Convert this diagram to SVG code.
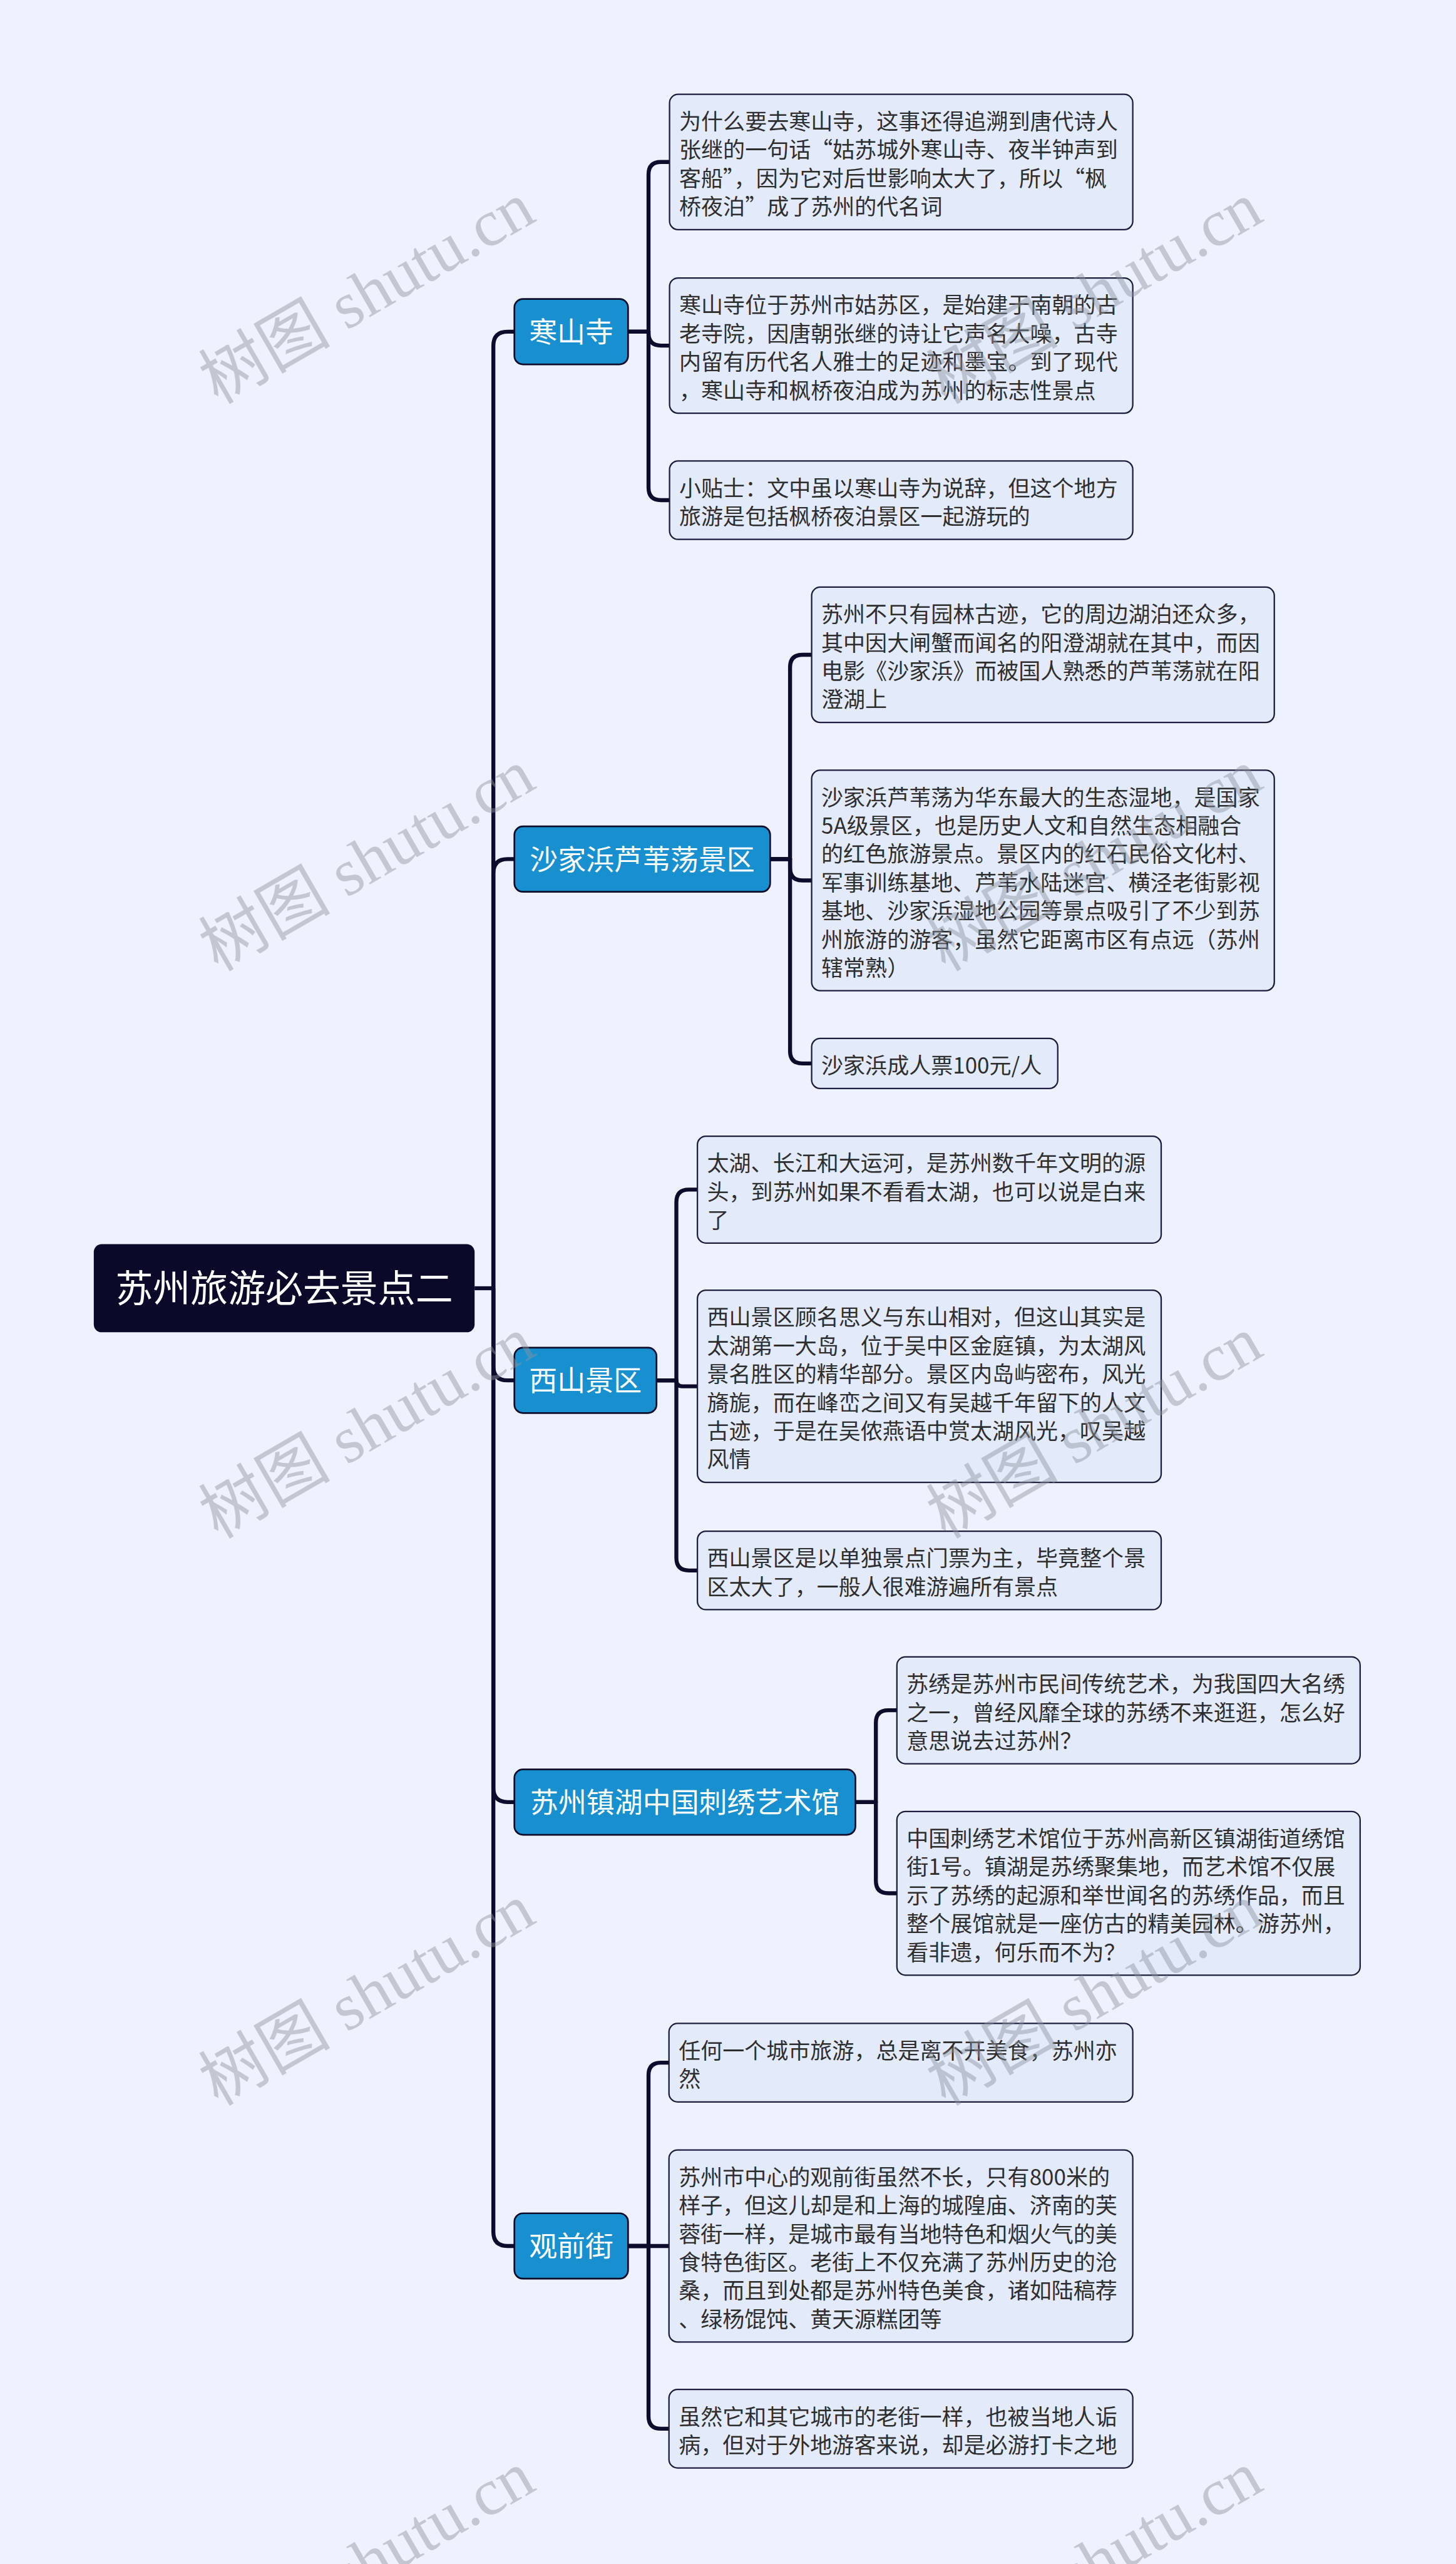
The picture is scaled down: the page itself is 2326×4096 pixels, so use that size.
<svg xmlns="http://www.w3.org/2000/svg" width="2326" height="4096" viewBox="0 0 2326 4096">
<style>
.bg{fill:#edf2fe}
.ln{fill:none;stroke:#0e0c2c;stroke-width:7;stroke-linejoin:round}
text{font-family:"Noto Sans CJK SC","Noto Sans",sans-serif}
.root rect{fill:#0b0929}
.root text{fill:#ffffff;font-size:66px;text-anchor:middle}
.n1 rect{fill:#1890d0;stroke:#0e0c2c;stroke-width:3}
.n1 text{fill:#ffffff;font-size:49.5px;text-anchor:middle}
.leaf rect{fill:#e3eafa;stroke:#1d1c3c;stroke-width:2.5}
.leaf text{fill:#2e2e2e;font-size:38.6px}
.wm{fill:#8f949e;opacity:0.45;font-size:116px;text-anchor:middle;font-family:"Liberation Serif","Noto Sans CJK SC",serif}
</style>
<rect class="bg" x="0" y="0" width="2326" height="4096"/>
<g transform="scale(0.908)">
<g id="connectors">
<path class="ln" d="M835 2266.5 H868"/>
<path class="ln" d="M868 2266.5 V608.5 Q868 583.5 893 583.5 H905"/>
<path class="ln" d="M868 2266.5 V1536.5 Q868 1511.5 893 1511.5 H905"/>
<path class="ln" d="M868 2266.5 V2403.5 Q868 2428.5 893 2428.5 H905"/>
<path class="ln" d="M868 2266.5 V3145.5 Q868 3170.5 893 3170.5 H905"/>
<path class="ln" d="M868 2266.5 V3926.5 Q868 3951.5 893 3951.5 H905"/>
<path class="ln" d="M1105 583.5 H1141 V307 Q1141 285 1163 285 H1178"/>
<path class="ln" d="M1105 583.5 H1141 V586 Q1141 608 1163 608 H1178"/>
<path class="ln" d="M1105 583.5 H1141 V858 Q1141 880 1163 880 H1178"/>
<path class="ln" d="M1355 1511.5 H1390 V1174 Q1390 1152 1412 1152 H1428"/>
<path class="ln" d="M1355 1511.5 H1390 V1527 Q1390 1549 1412 1549 H1428"/>
<path class="ln" d="M1355 1511.5 H1390 V1849 Q1390 1871 1412 1871 H1428"/>
<path class="ln" d="M1155 2428.5 H1190 V2115 Q1190 2093 1212 2093 H1227"/>
<path class="ln" d="M1155 2428.5 H1190 Q1190 2439 1200.5 2439 H1227"/>
<path class="ln" d="M1155 2428.5 H1190 V2741 Q1190 2763 1212 2763 H1227"/>
<path class="ln" d="M1505 3170.5 H1541 V3031 Q1541 3009 1563 3009 H1578"/>
<path class="ln" d="M1505 3170.5 H1541 V3309 Q1541 3331 1563 3331 H1578"/>
<path class="ln" d="M1104 3951.5 H1141 V3651 Q1141 3629 1163 3629 H1177"/>
<path class="ln" d="M1104 3951.5 H1177"/>
<path class="ln" d="M1104 3951.5 H1141 V4251 Q1141 4273 1163 4273 H1177"/>
</g>
<g id="root" class="root">
<rect x="165" y="2189" width="670" height="155" rx="14"/>
<text x="500" y="2291">苏州旅游必去景点二</text>
</g>
<g id="n-hanshansi" class="n1">
<rect x="905" y="526" width="200" height="115" rx="15"/>
<text x="1005" y="602.3">寒山寺</text>
</g>
<g id="n-shajiabang" class="n1">
<rect x="905" y="1454" width="450" height="115" rx="15"/>
<text x="1130" y="1530.3">沙家浜芦苇荡景区</text>
</g>
<g id="n-xishan" class="n1">
<rect x="905" y="2371" width="250" height="115" rx="15"/>
<text x="1030" y="2447.3">西山景区</text>
</g>
<g id="n-zhenhu" class="n1">
<rect x="905" y="3113" width="600" height="115" rx="15"/>
<text x="1205" y="3189.3">苏州镇湖中国刺绣艺术馆</text>
</g>
<g id="n-guanqianjie" class="n1">
<rect x="905" y="3894" width="200" height="115" rx="15"/>
<text x="1005" y="3970.3">观前街</text>
</g>
<g id="a1" class="leaf">
<rect x="1178" y="166" width="815" height="238" rx="15"/>
<text x="1195" y="228"><tspan x="1195">为什么要去寒山寺，这事还得追溯到唐代诗人</tspan><tspan x="1195" dy="50">张继的一句话“姑苏城外寒山寺、夜半钟声到</tspan><tspan x="1195" dy="50">客船”，因为它对后世影响太大了，所以“枫</tspan><tspan x="1195" dy="50">桥夜泊”成了苏州的代名词</tspan></text>
</g>
<g id="a2" class="leaf">
<rect x="1178" y="489" width="815" height="238" rx="15"/>
<text x="1195" y="551"><tspan x="1195">寒山寺位于苏州市姑苏区，是始建于南朝的古</tspan><tspan x="1195" dy="50">老寺院，因唐朝张继的诗让它声名大噪，古寺</tspan><tspan x="1195" dy="50">内留有历代名人雅士的足迹和墨宝。到了现代</tspan><tspan x="1195" dy="50">，寒山寺和枫桥夜泊成为苏州的标志性景点</tspan></text>
</g>
<g id="a3" class="leaf">
<rect x="1178" y="811" width="815" height="138" rx="15"/>
<text x="1195" y="873"><tspan x="1195">小贴士：文中虽以寒山寺为说辞，但这个地方</tspan><tspan x="1195" dy="50">旅游是包括枫桥夜泊景区一起游玩的</tspan></text>
</g>
<g id="b1" class="leaf">
<rect x="1428" y="1033" width="814" height="238" rx="15"/>
<text x="1445" y="1095"><tspan x="1445">苏州不只有园林古迹，它的周边湖泊还众多，</tspan><tspan x="1445" dy="50">其中因大闸蟹而闻名的阳澄湖就在其中，而因</tspan><tspan x="1445" dy="50">电影《沙家浜》而被国人熟悉的芦苇荡就在阳</tspan><tspan x="1445" dy="50">澄湖上</tspan></text>
</g>
<g id="b2" class="leaf">
<rect x="1428" y="1355" width="814" height="388" rx="15"/>
<text x="1445" y="1417"><tspan x="1445">沙家浜芦苇荡为华东最大的生态湿地，是国家</tspan><tspan x="1445" dy="50">5A级景区，也是历史人文和自然生态相融合</tspan><tspan x="1445" dy="50">的红色旅游景点。景区内的红石民俗文化村、</tspan><tspan x="1445" dy="50">军事训练基地、芦苇水陆迷宫、横泾老街影视</tspan><tspan x="1445" dy="50">基地、沙家浜湿地公园等景点吸引了不少到苏</tspan><tspan x="1445" dy="50">州旅游的游客，虽然它距离市区有点远（苏州</tspan><tspan x="1445" dy="50">辖常熟）</tspan></text>
</g>
<g id="b3" class="leaf">
<rect x="1428" y="1827" width="433" height="88" rx="15"/>
<text x="1445" y="1889">沙家浜成人票100元/人</text>
</g>
<g id="c1" class="leaf">
<rect x="1227" y="1999" width="816" height="188" rx="15"/>
<text x="1244" y="2061"><tspan x="1244">太湖、长江和大运河，是苏州数千年文明的源</tspan><tspan x="1244" dy="50">头，到苏州如果不看看太湖，也可以说是白来</tspan><tspan x="1244" dy="50">了</tspan></text>
</g>
<g id="c2" class="leaf">
<rect x="1227" y="2270" width="816" height="338" rx="15"/>
<text x="1244" y="2332"><tspan x="1244">西山景区顾名思义与东山相对，但这山其实是</tspan><tspan x="1244" dy="50">太湖第一大岛，位于吴中区金庭镇，为太湖风</tspan><tspan x="1244" dy="50">景名胜区的精华部分。景区内岛屿密布，风光</tspan><tspan x="1244" dy="50">旖旎，而在峰峦之间又有吴越千年留下的人文</tspan><tspan x="1244" dy="50">古迹，于是在吴侬燕语中赏太湖风光，叹吴越</tspan><tspan x="1244" dy="50">风情</tspan></text>
</g>
<g id="c3" class="leaf">
<rect x="1227" y="2694" width="816" height="138" rx="15"/>
<text x="1244" y="2756"><tspan x="1244">西山景区是以单独景点门票为主，毕竟整个景</tspan><tspan x="1244" dy="50">区太大了，一般人很难游遍所有景点</tspan></text>
</g>
<g id="d1" class="leaf">
<rect x="1578" y="2915" width="815" height="188" rx="15"/>
<text x="1595" y="2977"><tspan x="1595">苏绣是苏州市民间传统艺术，为我国四大名绣</tspan><tspan x="1595" dy="50">之一，曾经风靡全球的苏绣不来逛逛，怎么好</tspan><tspan x="1595" dy="50">意思说去过苏州？</tspan></text>
</g>
<g id="d2" class="leaf">
<rect x="1578" y="3187" width="815" height="288" rx="15"/>
<text x="1595" y="3249"><tspan x="1595">中国刺绣艺术馆位于苏州高新区镇湖街道绣馆</tspan><tspan x="1595" dy="50">街1号。镇湖是苏绣聚集地，而艺术馆不仅展</tspan><tspan x="1595" dy="50">示了苏绣的起源和举世闻名的苏绣作品，而且</tspan><tspan x="1595" dy="50">整个展馆就是一座仿古的精美园林。游苏州，</tspan><tspan x="1595" dy="50">看非遗，何乐而不为？</tspan></text>
</g>
<g id="e1" class="leaf">
<rect x="1177" y="3560" width="816" height="138" rx="15"/>
<text x="1194" y="3622"><tspan x="1194">任何一个城市旅游，总是离不开美食，苏州亦</tspan><tspan x="1194" dy="50">然</tspan></text>
</g>
<g id="e2" class="leaf">
<rect x="1177" y="3782.5" width="816" height="338" rx="15"/>
<text x="1194" y="3844.5"><tspan x="1194">苏州市中心的观前街虽然不长，只有800米的</tspan><tspan x="1194" dy="50">样子，但这儿却是和上海的城隍庙、济南的芙</tspan><tspan x="1194" dy="50">蓉街一样，是城市最有当地特色和烟火气的美</tspan><tspan x="1194" dy="50">食特色街区。老街上不仅充满了苏州历史的沧</tspan><tspan x="1194" dy="50">桑，而且到处都是苏州特色美食，诸如陆稿荐</tspan><tspan x="1194" dy="50">、绿杨馄饨、黄天源糕团等</tspan></text>
</g>
<g id="e3" class="leaf">
<rect x="1177" y="4204" width="816" height="138" rx="15"/>
<text x="1194" y="4266"><tspan x="1194">虽然它和其它城市的老街一样，也被当地人诟</tspan><tspan x="1194" dy="50">病，但对于外地游客来说，却是必游打卡之地</tspan></text>
</g>
<g id="watermarks">
<text class="wm" transform="translate(645 515) rotate(-30)" x="0" y="40">树图 shutu.cn</text>
<text class="wm" transform="translate(645 1513) rotate(-30)" x="0" y="40">树图 shutu.cn</text>
<text class="wm" transform="translate(645 2511) rotate(-30)" x="0" y="40">树图 shutu.cn</text>
<text class="wm" transform="translate(645 3509) rotate(-30)" x="0" y="40">树图 shutu.cn</text>
<text class="wm" transform="translate(645 4507) rotate(-30)" x="0" y="40">树图 shutu.cn</text>
<text class="wm" transform="translate(1925 515) rotate(-30)" x="0" y="40">树图 shutu.cn</text>
<text class="wm" transform="translate(1925 1513) rotate(-30)" x="0" y="40">树图 shutu.cn</text>
<text class="wm" transform="translate(1925 2511) rotate(-30)" x="0" y="40">树图 shutu.cn</text>
<text class="wm" transform="translate(1925 3509) rotate(-30)" x="0" y="40">树图 shutu.cn</text>
<text class="wm" transform="translate(1925 4507) rotate(-30)" x="0" y="40">树图 shutu.cn</text>
</g>
</g>
</svg>
